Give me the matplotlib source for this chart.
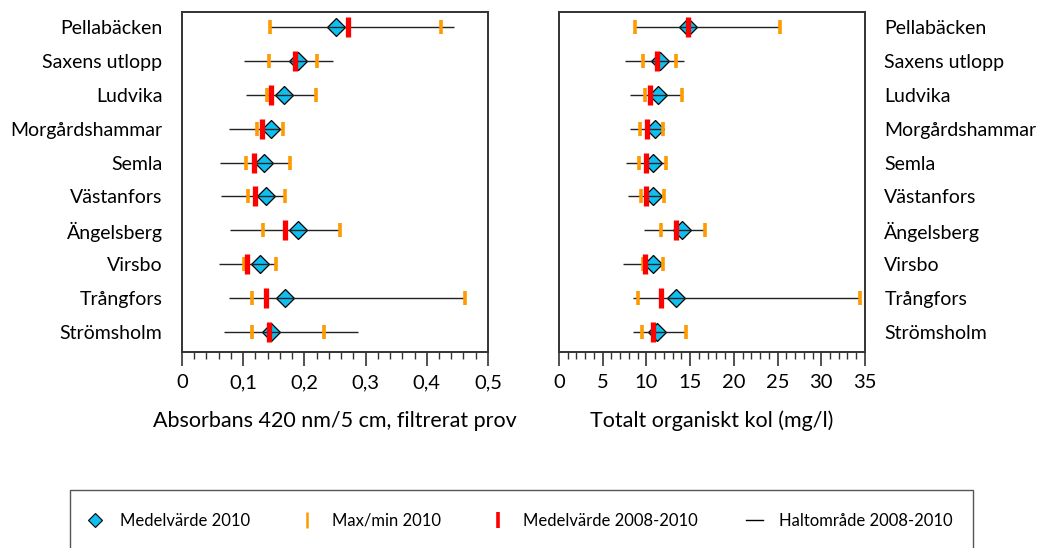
import matplotlib
matplotlib.use('Agg')
import matplotlib.pyplot as plt
from matplotlib.lines import Line2D
from matplotlib.patches import Rectangle
from matplotlib import ticker

plt.rcParams['font.family'] = ['Lato', 'DejaVu Sans']

stations = ['Pellabäcken', 'Saxens utlopp', 'Ludvika', 'Morgårdshammar', 'Semla',
            'Västanfors', 'Ängelsberg', 'Virsbo', 'Trångfors', 'Strömsholm']

# absorbans 420 nm/5 cm
abs_mean2010 = [0.252, 0.189, 0.167, 0.146, 0.134, 0.137, 0.189, 0.127, 0.168, 0.145]
abs_min2010 = [0.144, 0.142, 0.139, 0.122, 0.105, 0.108, 0.133, 0.102, 0.114, 0.114]
abs_max2010 = [0.424, 0.221, 0.219, 0.165, 0.177, 0.169, 0.258, 0.154, 0.462, 0.232]
abs_mean0810 = [0.272, 0.185, 0.145, 0.131, 0.117, 0.119, 0.169, 0.107, 0.138, 0.142]
abs_lo0810 = [0.144, 0.101, 0.105, 0.077, 0.062, 0.064, 0.078, 0.060, 0.077, 0.069]
abs_hi0810 = [0.445, 0.246, 0.218, 0.165, 0.177, 0.169, 0.258, 0.154, 0.462, 0.287]

# TOC mg/l
toc_mean2010 = [14.7, 11.55, 11.35, 10.95, 10.8, 10.7, 14.1, 10.7, 13.4, 11.2]
toc_min2010 = [8.7, 9.65, 9.8, 9.25, 9.2, 9.4, 11.7, 9.65, 9.05, 9.55]
toc_max2010 = [25.3, 13.4, 14.05, 11.95, 12.25, 12.0, 16.7, 11.85, 34.4, 14.5]
toc_mean0810 = [14.7, 11.25, 10.4, 10.05, 9.95, 10.0, 13.4, 9.8, 11.7, 10.8]
toc_lo0810 = [8.7, 7.55, 8.1, 8.1, 7.65, 7.85, 9.75, 7.35, 8.45, 8.5]
toc_hi0810 = [25.3, 14.25, 14.05, 11.95, 12.25, 12.0, 16.7, 11.85, 34.4, 14.5]

blue = '#10BFEF'
orange = '#FF9A00'
red = '#FF0000'

fig = plt.figure(figsize=(10.4, 5.48), dpi=100)
ax1 = fig.add_axes([0.175, 0.3577, 0.2942, 0.6204])
ax2 = fig.add_axes([0.5375, 0.3577, 0.2942, 0.6204])


def draw_panel(ax, mean10, mn10, mx10, mean0810, lo, hi):
    y = list(range(len(stations)))
    ax.plot(mean10, y, linestyle='None', marker='D', markersize=9,
            markerfacecolor=blue, markeredgecolor='black', markeredgewidth=0.9, zorder=2)
    ax.hlines(y, lo, hi, color='#222222', linewidth=1.0, zorder=3)
    ax.plot(mn10, y, linestyle='None', marker='|', markersize=9.5,
            markeredgewidth=2.6, color=orange, zorder=4)
    ax.plot(mx10, y, linestyle='None', marker='|', markersize=9.5,
            markeredgewidth=2.6, color=orange, zorder=4)
    ax.plot(mean0810, y, linestyle='None', marker='|', markersize=15,
            markeredgewidth=3.8, color=red, zorder=5)
    ax.set_yticks(y)
    ax.set_yticklabels(stations, fontsize=14)
    ax.set_ylim(9.6, -0.45)
    for s in ax.spines.values():
        s.set_color('#333333')
        s.set_linewidth(1.4)
    ax.tick_params(axis='y', length=0, pad=14)
    ax.tick_params(axis='x', which='major', length=10, width=1.2, color='#333333',
                   labelsize=14.5, pad=6)
    ax.tick_params(axis='x', which='minor', length=5, width=1.0, color='#333333')


draw_panel(ax1, abs_mean2010, abs_min2010, abs_max2010, abs_mean0810, abs_lo0810, abs_hi0810)
draw_panel(ax2, toc_mean2010, toc_min2010, toc_max2010, toc_mean0810, toc_lo0810, toc_hi0810)

ax1.set_xlim(0, 0.5)
ax1.xaxis.set_major_locator(ticker.MultipleLocator(0.1))
ax1.xaxis.set_minor_locator(ticker.MultipleLocator(0.02))
ax1.xaxis.set_major_formatter(ticker.FuncFormatter(lambda v, p: ('%g' % round(v, 2)).replace('.', ',')))
ax1.set_xlabel('Absorbans 420 nm/5 cm, filtrerat prov', fontsize=15.5, labelpad=14)

ax2.set_xlim(0, 35)
ax2.xaxis.set_major_locator(ticker.MultipleLocator(5))
ax2.xaxis.set_minor_locator(ticker.MultipleLocator(1))
ax2.yaxis.tick_right()
ax2.set_xlabel('Totalt organiskt kol (mg/l)', fontsize=15.5, labelpad=14)

# legend box (runs off the bottom edge)
fig.add_artist(Rectangle((70 / 1040, -0.05), (973 - 70) / 1040, 1 - 490 / 548 + 0.05,
                         transform=fig.transFigure, fill=False,
                         edgecolor='#555555', linewidth=1.0))

handles = [
    Line2D([], [], linestyle='None', marker='D', markersize=7.5,
           markerfacecolor=blue, markeredgecolor='black', markeredgewidth=0.8),
    Line2D([], [], linestyle='None', marker='|', markersize=11,
           markeredgewidth=1.8, color=orange),
    Line2D([], [], linestyle='None', marker='|', markersize=11,
           markeredgewidth=2.6, color=red),
    Line2D([], [], color='black', linewidth=1.0),
]
labels = ['Medelvärde 2010', 'Max/min 2010', 'Medelvärde 2008-2010', 'Haltområde 2008-2010']
fig.legend(handles, labels, ncol=4, loc='center', bbox_to_anchor=(0.5, 1 - 521 / 548),
           frameon=False, fontsize=12, handlelength=1.0, columnspacing=2.9,
           handletextpad=1.0)

fig.savefig('out.png', dpi=100)
